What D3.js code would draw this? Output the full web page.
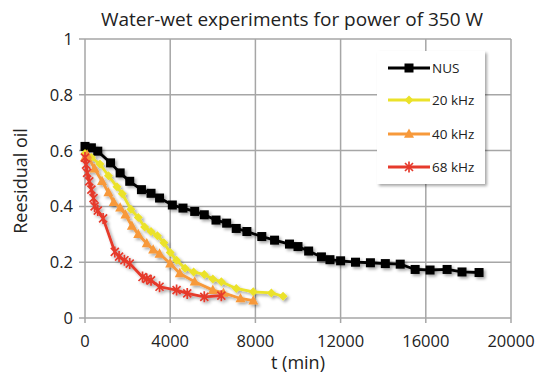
<!DOCTYPE html>
<html>
<head>
<meta charset="utf-8">
<script src="https://cdn.jsdelivr.net/npm/d3@7/dist/d3.min.js"></script>
<style>
  body { margin: 0; background: #fff; }
  svg { font-family: "Open Sans", "Noto Sans", sans-serif; }
</style>
</head>
<body>
<svg id="chart" width="538" height="376"></svg>
<script>
// data
var xTicks = [0, 4000, 8000, 12000, 16000, 20000];
var yTicks = [0, 0.2, 0.4, 0.6, 0.8, 1];

var nusT = [0, 300, 600, 1200, 1650, 2100, 2650, 3100, 3500, 4100, 4600, 5150, 5600, 6150, 6650, 7100, 7600, 8300, 8900, 9600, 10000, 10500, 11100, 11500, 12000, 12700, 13400, 14100, 14800, 15500, 16200, 17000, 17700, 18500];
var nusV = [0.615, 0.61, 0.598, 0.556, 0.52, 0.49, 0.46, 0.447, 0.43, 0.405, 0.394, 0.382, 0.37, 0.351, 0.34, 0.321, 0.31, 0.292, 0.279, 0.265, 0.256, 0.24, 0.219, 0.209, 0.205, 0.2, 0.198, 0.195, 0.193, 0.174, 0.172, 0.174, 0.165, 0.163];

var k20T = [0, 300, 700, 1100, 1500, 1750, 2150, 2500, 2800, 3100, 3400, 3700, 4000, 4300, 4700, 5100, 5600, 6000, 6400, 7100, 7900, 8750, 9300];
var k20V = [0.59, 0.575, 0.552, 0.51, 0.47, 0.445, 0.39, 0.36, 0.326, 0.31, 0.295, 0.27, 0.235, 0.207, 0.178, 0.165, 0.156, 0.14, 0.13, 0.106, 0.094, 0.09, 0.078];

var k40T = [0, 100, 450, 800, 1100, 1350, 1650, 1900, 2200, 2500, 2900, 3200, 3500, 4000, 4450, 5150, 6000, 6500, 7300, 7900];
var k40V = [0.575, 0.585, 0.535, 0.49, 0.45, 0.415, 0.395, 0.37, 0.33, 0.3, 0.267, 0.245, 0.23, 0.195, 0.16, 0.13, 0.1, 0.09, 0.07, 0.062];

var k68T = [0, 50, 100, 200, 300, 400, 450, 600, 850, 1400, 1600, 1850, 2100, 2700, 2900, 3100, 3500, 4300, 4800, 5600, 6400];
var k68V = [0.575, 0.55, 0.52, 0.49, 0.46, 0.43, 0.4, 0.385, 0.357, 0.237, 0.22, 0.207, 0.195, 0.147, 0.14, 0.135, 0.112, 0.1, 0.088, 0.076, 0.08];

var seriesNames = ["NUS", "20 kHz", "40 kHz", "68 kHz"];
var seriesColors = ["#000000", "#ebe22a", "#f7993a", "#e63a2c"];

function pairs(t, v) { return t.map(function(d, i) { return {t: d, v: v[i]}; }); }
var series = [
  {name: seriesNames[0], color: seriesColors[0], shape: "square", data: pairs(nusT, nusV)},
  {name: seriesNames[1], color: seriesColors[1], shape: "diamond", data: pairs(k20T, k20V)},
  {name: seriesNames[2], color: seriesColors[2], shape: "triangle", data: pairs(k40T, k40V)},
  {name: seriesNames[3], color: seriesColors[3], shape: "star", data: pairs(k68T, k68V)}
];

var svg = d3.select("#chart");
var x = d3.scaleLinear().domain([0, 20000]).range([85, 511]);
var y = d3.scaleLinear().domain([0, 1]).range([318, 39]);

var defs = svg.append("defs");
defs.append("filter").attr("id", "shadow").attr("x", "-20%").attr("y", "-20%").attr("width", "150%").attr("height", "150%")
  .append("feDropShadow").attr("dx", 2).attr("dy", 2).attr("stdDeviation", 1.5)
  .attr("flood-color", "#000").attr("flood-opacity", 0.35);

// grid
var grid = svg.append("g");
grid.selectAll(".vg").data(xTicks).enter().append("line")
  .attr("x1", d => x(d)).attr("x2", d => x(d))
  .attr("y1", y(1)).attr("y2", y(0) + 5)
  .attr("stroke", "#a6a6a6").attr("stroke-width", 1.5);
grid.selectAll(".hg").data(yTicks).enter().append("line")
  .attr("x1", x(0) - 6).attr("x2", x(20000))
  .attr("y1", d => y(d)).attr("y2", d => y(d))
  .attr("stroke", "#a6a6a6").attr("stroke-width", 1.5);

// tick labels
svg.append("g").selectAll("text").data(xTicks).enter().append("text")
  .attr("x", d => x(d)).attr("y", 347)
  .attr("text-anchor", "middle").attr("font-size", 16.5).attr("fill", "#222")
  .text(d => d);
svg.append("g").selectAll("text").data(yTicks).enter().append("text")
  .attr("x", 73).attr("y", d => y(d) + 6)
  .attr("text-anchor", "end").attr("font-size", 16.5).attr("fill", "#222")
  .text(d => d);

// titles
svg.append("text").attr("x", 292).attr("y", 26).attr("text-anchor", "middle")
  .attr("font-size", 19).attr("fill", "#222").text("Water-wet experiments for power of 350 W");
svg.append("text").attr("x", 298).attr("y", 369).attr("text-anchor", "middle")
  .attr("font-size", 18).attr("fill", "#222").text("t (min)");
svg.append("text").attr("transform", "translate(27,181) rotate(-90)").attr("text-anchor", "middle")
  .attr("font-size", 18).attr("fill", "#222").text("Reesidual oil");

function marker(sel, shape, color) {
  if (shape === "square") {
    sel.append("rect").attr("x", -4.5).attr("y", -4.5).attr("width", 9).attr("height", 9).attr("fill", color);
  } else if (shape === "diamond") {
    sel.append("path").attr("d", "M0,-4.5L4.5,0L0,4.5L-4.5,0Z").attr("fill", color);
  } else if (shape === "triangle") {
    sel.append("path").attr("d", "M0,-5.5L5,3.8L-5,3.8Z").attr("fill", color);
  } else {
    sel.append("path").attr("d", "M-4,-4L4,4M-4,4L4,-4M0,-5.5L0,5.5")
      .attr("stroke", color).attr("stroke-width", 1.7).attr("fill", "none");
  }
}

var line = d3.line().x(d => x(d.t)).y(d => y(d.v));
var plot = svg.append("g").attr("filter", "url(#shadow)");
series.forEach(function(s) {
  var g = plot.append("g");
  g.append("path").datum(s.data).attr("d", line)
    .attr("fill", "none").attr("stroke", s.color).attr("stroke-width", 2.8);
  g.selectAll(".m").data(s.data).enter().append("g")
    .attr("transform", d => "translate(" + x(d.t) + "," + y(d.v) + ")")
    .each(function() { marker(d3.select(this), s.shape, s.color); });
});

// legend
var lg = svg.append("g");
lg.append("rect").attr("x", 377).attr("y", 51).attr("width", 108).attr("height", 133)
  .attr("fill", "#fff").attr("filter", "url(#shadow)");
var rows = [68, 100, 134, 167];
series.forEach(function(s, i) {
  var r = lg.append("g").attr("transform", "translate(0," + rows[i] + ")");
  r.append("line").attr("x1", 388).attr("x2", 430).attr("stroke", s.color).attr("stroke-width", 2.8);
  marker(r.append("g").attr("transform", "translate(409,0)"), s.shape, s.color);
  r.append("text").attr("x", 432).attr("y", 5).attr("font-size", 13.5).attr("fill", "#222").text(s.name);
});
</script>
</body>
</html>
